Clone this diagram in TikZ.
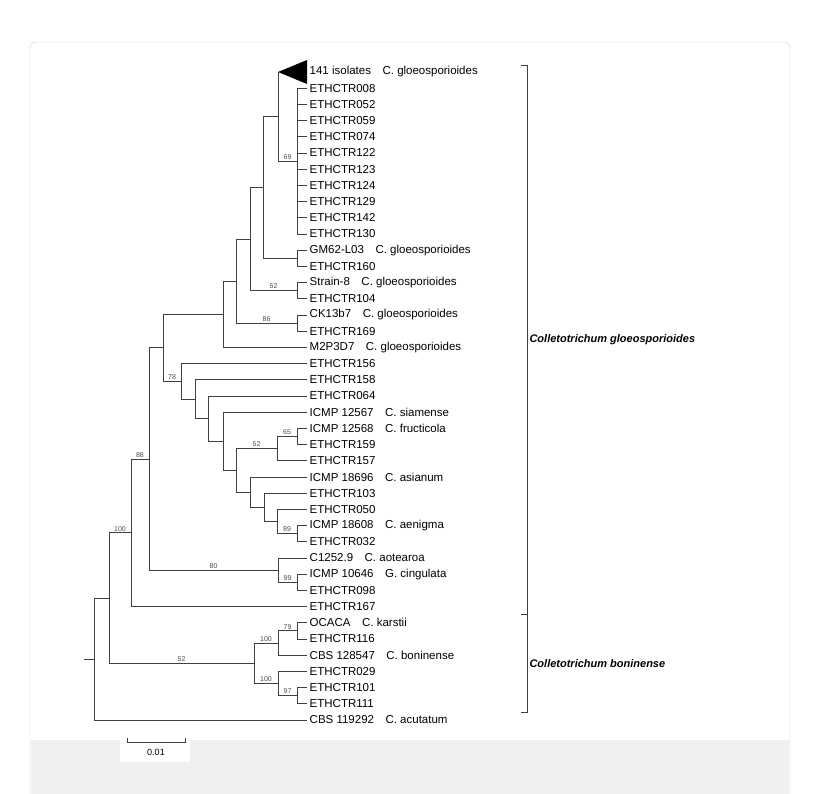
\documentclass[tikz,border=0pt]{standalone}
\usepackage{fontspec}
\setmainfont{Liberation Sans}
\begin{document}
\begin{tikzpicture}[x=1pt,y=-1pt]
\tikzset{
  br/.style={draw=black!75, line width=0.9pt},
  leaf/.style={anchor=west, inner sep=2.5pt, font=\fontsize{11.5}{12}\selectfont},
  bs/.style={above, inner sep=1.2pt, font=\fontsize{7}{8}\selectfont, text=black!70},
  clade/.style={anchor=west, font=\fontsize{11}{12}\selectfont\bfseries\itshape}
}
% background and frame
\useasboundingbox (0,0) rectangle (820,794);
\fill[white] (0,0) rectangle (820,794);
\fill[black!6] (31,740) rectangle (789,794);
\draw[black!20, rounded corners=6pt] (30,794) -- (30,42) -- (790,42) -- (790,794);
\fill[white] (120,734) rectangle (190,762);
% leaves
\foreach \nm/\txt [count=\i from 0] in {
  a1/{141 isolates\quad C. gloeosporioides}, a2/ETHCTR008, a3/ETHCTR052, a4/ETHCTR059,
  a5/ETHCTR074, a6/ETHCTR122, a7/ETHCTR123, a8/ETHCTR124, a9/ETHCTR129, a10/ETHCTR142,
  a11/ETHCTR130, b1/{GM62-L03\quad C. gloeosporioides}, b2/ETHCTR160,
  b3/{Strain-8\quad C. gloeosporioides}, b4/ETHCTR104, b5/{CK13b7\quad C. gloeosporioides},
  b6/ETHCTR169, b7/{M2P3D7\quad C. gloeosporioides}, c1/ETHCTR156, c2/ETHCTR158,
  c3/ETHCTR064, c4/{ICMP 12567\quad C. siamense}, c5/{ICMP 12568\quad C. fructicola},
  c6/ETHCTR159, c7/ETHCTR157, c8/{ICMP 18696\quad C. asianum}, c9/ETHCTR103,
  c10/ETHCTR050, c11/{ICMP 18608\quad C. aenigma}, c12/ETHCTR032,
  d1/{C1252.9\quad C. aotearoa}, d2/{ICMP 10646\quad G. cingulata}, d3/ETHCTR098,
  d4/ETHCTR167, e1/{OCACA\quad C. karstii}, e2/ETHCTR116,
  e3/{CBS 128547\quad C. boninense}, e4/ETHCTR029, e5/ETHCTR101, e6/ETHCTR111,
  f1/{CBS 119292\quad C. acutatum}}
  \node[leaf] (\nm) at (307,{72+16.2*\i}) {\txt};
% internal nodes
\coordinate (n69) at (297,161.1);
\coordinate (nA) at (278,116.6);
\coordinate (nGM) at (297,258.3);
\coordinate (nB) at (263,187.4);
\coordinate (nS) at (297,290.7);
\coordinate (nC) at (250,239.0);
\coordinate (nCK) at (297,323.1);
\coordinate (nD) at (236,281.0);
\coordinate (nE) at (223,314.2);
\coordinate (n65) at (297,436.5);
\coordinate (n52) at (277,448.7);
\coordinate (n89) at (297,533.7);
\coordinate (nG) at (277,521.6);
\coordinate (nH) at (264,507.4);
\coordinate (nI) at (250,492.2);
\coordinate (nJ) at (236,470.5);
\coordinate (nK) at (223,441.4);
\coordinate (nL) at (208,418.7);
\coordinate (nM) at (195,399.2);
\coordinate (n78) at (181,381.4);
\coordinate (nF) at (163,347.4);
\coordinate (n99) at (297,582.3);
\coordinate (n80) at (278,570.2);
\coordinate (n88) at (149,459.2);
\coordinate (nN) at (131,532.9);
\coordinate (n79) at (297,630.9);
\coordinate (nO) at (278,643.1);
\coordinate (n97) at (297,695.7);
\coordinate (nP) at (278,683.6);
\coordinate (nQ) at (254,663.3);
\coordinate (nR) at (109,598.5);
\coordinate (root) at (94,659.3);
\coordinate (stub) at (84,659.3);
% collapsed clade
\fill[black] (nA |- a1) -- (307,60) -- (307,84) -- cycle;
% branches
\foreach \p/\c in {n69/a2,n69/a3,n69/a4,n69/a5,n69/a6,n69/a7,n69/a8,n69/a9,n69/a10,n69/a11,
  nA/n69,nGM/b1,nGM/b2,nB/nA,nB/nGM,nS/b3,nS/b4,nC/nB,nCK/b5,nCK/b6,nD/nC,nE/nD,nE/b7,
  n65/c5,n65/c6,n52/c7,n89/c11,n89/c12,nG/c10,nH/c9,nH/nG,nI/c8,nI/nH,nJ/nI,nK/c4,nK/nJ,
  nL/c3,nL/nK,nM/c2,nM/nL,n78/c1,nF/nE,n99/d2,n99/d3,n80/d1,n80/n99,nN/d4,
  n79/e1,n79/e2,nO/e3,n97/e5,n97/e6,nP/e4,nP/n97,nQ/nO,nQ/nP,nR/nQ,root/nR,root/f1}
  \draw[br] (\p) |- (\c);
\draw[br] (nA) -- (nA |- a1);
% branches with support values
\draw[br] (nA) |- node[bs, pos=0.75] {69} (n69);
\draw[br] (nC) |- node[bs, pos=0.75] {52} (nS);
\draw[br] (nD) |- node[bs, pos=0.75] {86} (nCK);
\draw[br] (nJ) |- node[bs, pos=0.75] {52} (n52);
\draw[br] (n52) |- node[bs, pos=0.75] {65} (n65);
\draw[br] (nG) |- node[bs, pos=0.75] {89} (n89);
\draw[br] (nM) |- (nL);
\draw[br] (nF) |- node[bs, pos=0.75] {78} (n78);
\draw[br] (n78) |- (nM);
\draw[br] (n88) |- (nF);
\draw[br] (n88) |- node[bs, pos=0.75] {80} (n80);
\draw[br] (n80) |- node[bs, pos=0.75] {99} (n99);
\draw[br] (nN) |- node[bs, pos=0.75] {88} (n88);
\draw[br] (nR) |- node[bs, pos=0.75] {100} (nN);
\draw[br] (nQ) |- node[bs, pos=0.75] {100} (nO);
\draw[br] (nO) |- node[bs, pos=0.75] {79} (n79);
\draw[br] (nQ) |- node[bs, pos=0.75] {100} (nP);
\draw[br] (nP) |- node[bs, pos=0.75] {97} (n97);
\draw[br] (nR) |- node[bs, pos=0.75] {52} (nQ);
\draw[br] (stub) -- (root);
% clade brackets
\draw[br] (521,65) -- (527,65) -- (527,712) -- (521,712);
\draw[br] (521,614) -- (527,614);
\node[clade] (cg) at (526,340) {Colletotrichum gloeosporioides};
\node[clade] (cb) at (526,664) {Colletotrichum boninense};
% scale bar
\draw[br] (127,738) -- (127,742) -- (185,742) -- (185,738);
\node[font=\fontsize{9}{10}\selectfont] (sc) at (156,752) {0.01};
\end{tikzpicture}
\end{document}
